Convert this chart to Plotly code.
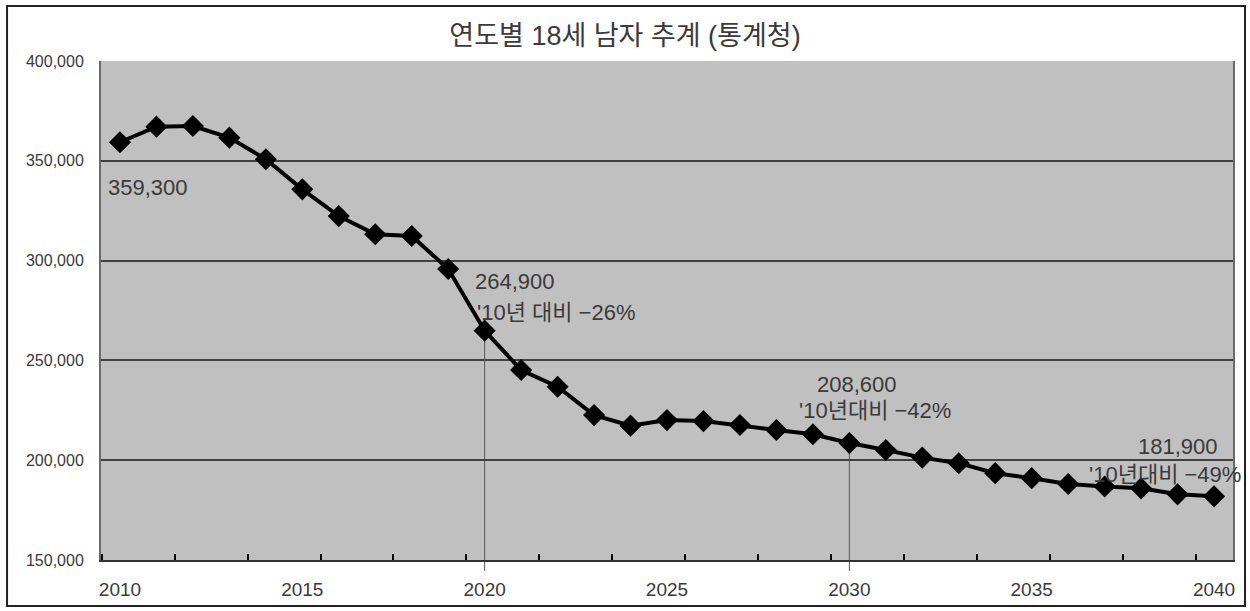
import plotly.graph_objects as go

years = list(range(2010, 2041))
males_18 = [359300, 367100, 367400, 361600, 350800, 335700, 322300, 313200, 312300, 295800,
            264900, 245200, 236800, 222600, 217300, 220100, 219600, 217600, 215100, 213000,
            208600, 205100, 201300, 198500, 193500, 191000, 188100, 186800, 185900, 182900,
            181900]
x_tick_years = [2010, 2015, 2020, 2025, 2030, 2035, 2040]
y_ticks = [150000, 200000, 250000, 300000, 350000, 400000]
marked_years = [2020, 2030]
notes = {
    2010: ["359,300"],
    2020: ["264,900", "'10년 대비 −26%"],
    2030: ["208,600", "'10년대비 −42%"],
    2040: ["181,900", "'10년대비 −49%"],
}

YMIN, YMAX = 150000, 400000
FONT = "Liberation Sans, Arial, Noto Sans CJK KR, sans-serif"
TXT = "#3a3a3a"

fig = go.Figure()
fig.add_trace(go.Scatter(
    x=years, y=males_18, mode="lines+markers",
    line=dict(color="black", width=4),
    marker=dict(symbol="diamond", size=17, color="black"),
    cliponaxis=False, hoverinfo="x+y", showlegend=False,
))

shapes = []
val = dict(zip(years, males_18))
for yr in marked_years:
    shapes.append(dict(type="line", xref="x", yref="paper",
                       x0=yr, x1=yr, y0=-0.022,
                       y1=(val[yr] - YMIN) / (YMAX - YMIN),
                       line=dict(color="#555555", width=1), layer="below"))
# outer frame
shapes.append(dict(type="rect", xref="paper", yref="paper",
                   x0=-0.083, x1=1.0106, y0=-0.092, y1=1.110,
                   line=dict(color="#222222", width=2), fillcolor="rgba(0,0,0,0)"))

ann = []
offsets = {
    2010: [dict(xanchor="left", xshift=-14, yshift=-45)],
    2020: [dict(xanchor="left", xshift=-12, yshift=49),
           dict(xanchor="left", xshift=-10, yshift=18)],
    2030: [dict(xanchor="left", xshift=-34, yshift=59),
           dict(xanchor="left", xshift=-52, yshift=33)],
    2040: [dict(xanchor="right", xshift=6, yshift=50),
           dict(xanchor="right", xshift=29, yshift=22)],
}
for yr, lines in notes.items():
    for txt, off in zip(lines, offsets[yr]):
        ann.append(dict(x=yr, y=val[yr], xref="x", yref="y", text=txt,
                        showarrow=False, yanchor="middle",
                        font=dict(family=FONT, size=22, color=TXT), **off))

fig.update_layout(
    width=1250, height=611,
    margin=dict(l=101, r=17, t=61, b=51, autoexpand=False),
    paper_bgcolor="white", plot_bgcolor="#c0c0c0",
    title=dict(text="연도별 18세 남자 추계 (통계청)", x=0.5, xref="container",
               y=1 - 36 / 611, yref="container", yanchor="middle", xanchor="center",
               font=dict(family=FONT, size=27, color=TXT)),
    shapes=shapes, annotations=ann,
    font=dict(family=FONT, color=TXT),
)
fig.update_xaxes(
    range=[2009.48, 2040.52], tickvals=x_tick_years, automargin=False,
    ticks="", showgrid=False, zeroline=False,
    showline=True, linecolor="#333333", linewidth=2,
    tickfont=dict(size=19, color=TXT), ticklabelstandoff=11,
    minor=dict(tick0=2011.5, dtick=2, ticks="inside", ticklen=6,
               tickcolor="black", tickwidth=2, showgrid=False),
)
fig.update_yaxes(
    range=[YMIN, YMAX], tickvals=y_ticks, tickformat=",d", automargin=False,
    ticks="", showgrid=True, gridcolor="#404040", gridwidth=2,
    zeroline=False, showline=True, linecolor="#6a6a6a", linewidth=2, mirror=True,
    tickfont=dict(size=16, color=TXT), ticklabelstandoff=12,
)

fig.write_html("out.html")
